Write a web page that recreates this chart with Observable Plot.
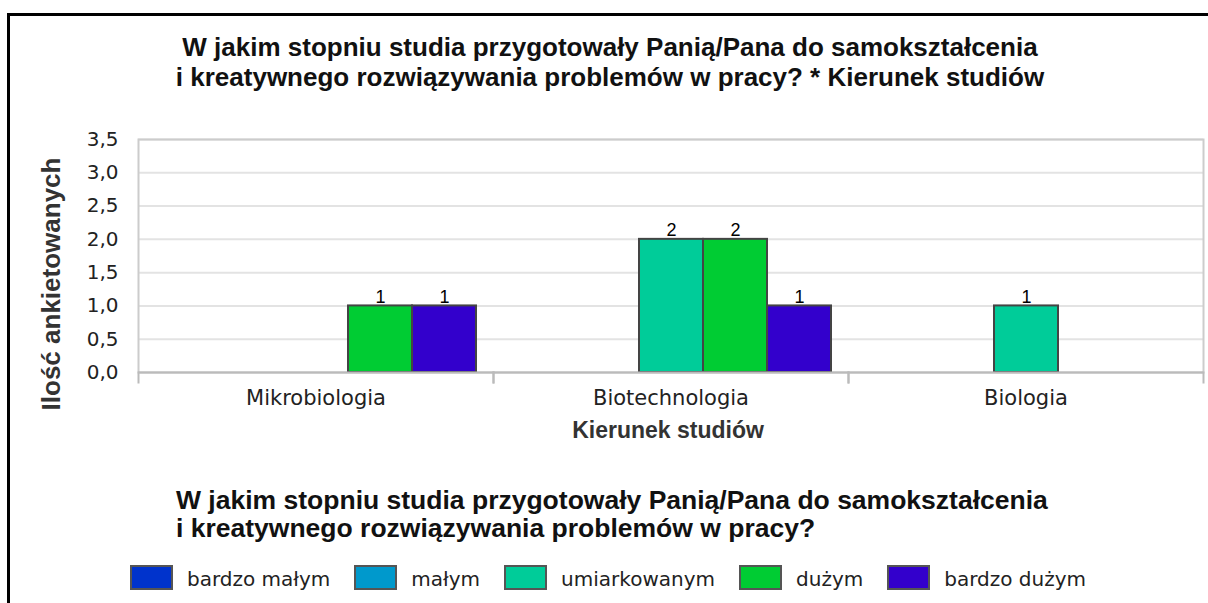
<!DOCTYPE html>
<html>
<head>
<meta charset="utf-8">
<script src="https://cdn.jsdelivr.net/npm/d3@7"></script>
<script src="https://cdn.jsdelivr.net/npm/@observablehq/plot@0.6"></script>
<style>
  html, body { margin: 0; padding: 0; background: #fff; }
  body { width: 1208px; height: 603px; overflow: hidden; position: relative; font-family: "Liberation Sans", Arial, sans-serif; }
  #border { position: absolute; left: 7px; top: 13px; width: 1400px; height: 800px; border-top: 3px solid #000; border-left: 3px solid #000; }
  #title { position: absolute; left: 0; top: 32px; width: 1220px; text-align: center; font-weight: bold; font-size: 26px; line-height: 30px; color: #111; }
  #chart { position: absolute; left: 0; top: 100px; }
  #legend-title { position: absolute; left: 176px; top: 486px; font-weight: bold; font-size: 26.5px; line-height: 28px; color: #111; white-space: nowrap; }
  #legend { position: absolute; left: 130px; top: 564px; display: flex; align-items: center; font-family: "DejaVu Sans", sans-serif; font-size: 20px; color: #222; white-space: nowrap; }
  .item { display: flex; align-items: center; margin-right: 24px; }
  .sw { box-sizing: border-box; width: 43px; height: 25px; border: 2px solid #555; margin-right: 14px; }
  .lbl { padding-top: 3px; }
  [aria-label="fx-axis tick label"] text { font-size: 21px; }
  [aria-label="y-axis tick label"] text { font-size: 20px; }
</style>
</head>
<body>
<div id="border"></div>
<div id="title"></div>
<div id="chart"></div>
<div id="legend-title"></div>
<div id="legend"></div>
<script>
const titleLines = ["W jakim stopniu studia przygotowały Panią/Pana do samokształcenia", "i kreatywnego rozwiązywania problemów w pracy? * Kierunek studiów"];
const legendTitleLines = ["W jakim stopniu studia przygotowały Panią/Pana do samokształcenia", "i kreatywnego rozwiązywania problemów w pracy?"];
const xLabel = "Kierunek studiów";
const yLabel = "Ilość ankietowanych";

const categories = ["Mikrobiologia", "Biotechnologia", "Biologia"];
const series = ["bardzo małym", "małym", "umiarkowanym", "dużym", "bardzo dużym"];
const colors = ["#0033cc", "#0099cc", "#00cc99", "#00cc33", "#3300cc"];

// values per category, in series order
const mikrobiologia = [0, 0, 0, 1, 1];
const biotechnologia = [0, 0, 2, 2, 1];
const biologia = [0, 0, 1, 0, 0];

const yTicks = [0, 0.5, 1, 1.5, 2, 2.5, 3, 3.5];

const data = [];
[mikrobiologia, biotechnologia, biologia].forEach((vals, ci) => {
  vals.forEach((v, si) => {
    if (v > 0) data.push({category: categories[ci], series: series[si], value: v});
  });
});

const fmt = d => d3.format(".1f")(d).replace(".", ",");

const plot = Plot.plot({
  width: 1208,
  height: 350,
  marginTop: 39,
  marginBottom: 78,
  marginLeft: 137,
  marginRight: 5,
  style: {fontFamily: "DejaVu Sans", fontSize: "20px", color: "#222", background: "transparent", overflow: "visible"},
  fx: {domain: categories, padding: 0, label: null, tickSize: 0, tickPadding: 18},
  x: {domain: series, paddingInner: 0, paddingOuter: 0.273, axis: null},
  y: {domain: [0, 3.5], ticks: yTicks, tickFormat: fmt, tickSize: 0, tickPadding: 20, label: null},
  color: {domain: series, range: colors},
  marks: [
    Plot.gridY(yTicks, {stroke: "#e3e3e3", strokeOpacity: 1, strokeWidth: 2}),
    Plot.frame({facet: "super", stroke: "#cccccc", strokeWidth: 2}),
    Plot.barY(data, {fx: "category", x: "series", y: "value", fill: "series", stroke: "#444", strokeWidth: 2}),
    Plot.text(data, {fx: "category", x: "series", y: "value", text: d => String(d.value), lineAnchor: "bottom", dy: -3, fontFamily: "Liberation Sans", fontSize: 18, fill: "#000"}),
    Plot.ruleY([0], {stroke: "#bbbbbb", strokeWidth: 2}),
    Plot.frame({anchor: "left", stroke: "#bbbbbb", strokeWidth: 2, insetTop: 233, insetBottom: -10}),
    Plot.frame({anchor: "right", stroke: "#bbbbbb", strokeWidth: 2, insetTop: 233, insetBottom: -10})
  ]
});

const svg = d3.select(plot);
svg.append("text")
  .attr("transform", "translate(60,184) rotate(-90)")
  .attr("text-anchor", "middle")
  .attr("font-family", "Liberation Sans, Arial, sans-serif")
  .attr("font-weight", "bold")
  .attr("font-size", 26)
  .attr("fill", "#333")
  .text(yLabel);
svg.append("text")
  .attr("x", 668)
  .attr("y", 338)
  .attr("text-anchor", "middle")
  .attr("font-family", "Liberation Sans, Arial, sans-serif")
  .attr("font-weight", "bold")
  .attr("font-size", 23)
  .attr("fill", "#333")
  .text(xLabel);

document.getElementById("chart").appendChild(plot);
document.getElementById("title").innerHTML = titleLines.join("<br>");
document.getElementById("legend-title").innerHTML = legendTitleLines.join("<br>");

const legend = d3.select("#legend");
series.forEach((s, i) => {
  const it = legend.append("div").attr("class", "item");
  it.append("div").attr("class", "sw").style("background", colors[i]);
  it.append("span").attr("class", "lbl").text(s);
});
</script>
</body>
</html>
